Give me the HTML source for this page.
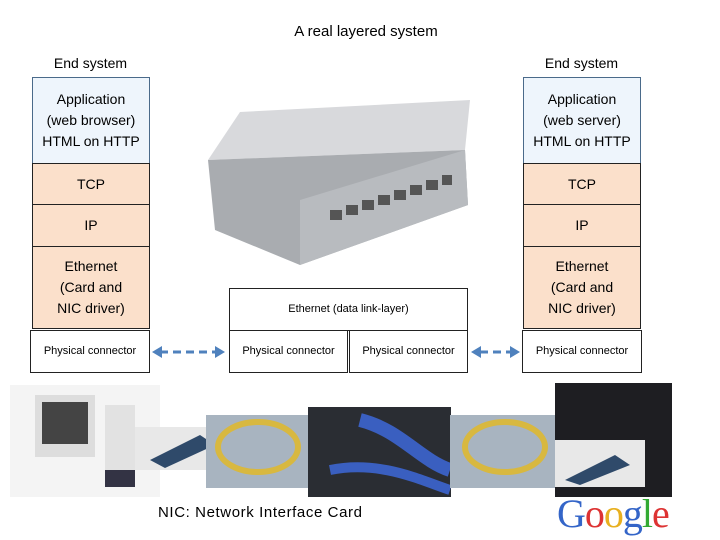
<!DOCTYPE html>
<html><head><style>
body{margin:0;width:720px;height:540px;background:#fff;position:relative;overflow:hidden;font-family:"Liberation Sans",sans-serif;color:#000}
.a{position:absolute;box-sizing:border-box}
.b{border:1px solid #222;display:flex;align-items:center;justify-content:center;text-align:center;line-height:21px;font-size:14px}
.s{font-size:11px}
.t{font-size:14px;text-align:center}
</style></head><body>
<div class="a t" style="left:0;width:732px;top:23px;font-size:15px">A real layered system</div>
<div class="a t" style="left:32px;width:117px;top:55px">End system</div>
<div class="a t" style="left:523px;width:117px;top:55px">End system</div>

<div class="a b" style="left:32px;top:77px;width:118px;height:87px;background:#eef5fc;border-color:#4a6a8a">Application<br>(web browser)<br>HTML on HTTP</div>
<div class="a b" style="left:32px;top:163px;width:118px;height:42px;background:#fbe0cb">TCP</div>
<div class="a b" style="left:32px;top:204px;width:118px;height:43px;background:#fbe0cb">IP</div>
<div class="a b" style="left:32px;top:246px;width:118px;height:83px;background:#fbe0cb">Ethernet<br>(Card and<br>NIC driver)</div>
<div class="a b s" style="left:30px;top:330px;width:120px;height:43px;background:#fff">Physical connector</div>

<div class="a b" style="left:523px;top:77px;width:118px;height:87px;background:#eef5fc;border-color:#4a6a8a">Application<br>(web server)<br>HTML on HTTP</div>
<div class="a b" style="left:523px;top:163px;width:118px;height:42px;background:#fbe0cb">TCP</div>
<div class="a b" style="left:523px;top:204px;width:118px;height:43px;background:#fbe0cb">IP</div>
<div class="a b" style="left:523px;top:246px;width:118px;height:83px;background:#fbe0cb">Ethernet<br>(Card and<br>NIC driver)</div>
<div class="a b s" style="left:522px;top:330px;width:120px;height:43px;background:#fff">Physical connector</div>

<div class="a b s" style="left:229px;top:288px;width:239px;height:43px;padding-top:0px">Ethernet (data link-layer)</div>
<div class="a b s" style="left:229px;top:330px;width:119px;height:43px">Physical connector</div>
<div class="a b s" style="left:349px;top:330px;width:119px;height:43px">Physical connector</div>

<svg class="a" style="left:0;top:0" width="720" height="540">
<g stroke="#4f81bd" stroke-width="3" stroke-dasharray="8,5" fill="none">
<line x1="160" y1="352" x2="216" y2="352"/><line x1="480" y1="352" x2="512" y2="352"/></g>
<g fill="#4f81bd"><polygon points="152,352 162,346 162,358"/><polygon points="225,352 215,346 215,358"/>
<polygon points="471,352 481,346 481,358"/><polygon points="520,352 510,346 510,358"/></g>
<polygon points="208,160 240,112 470,100 465,150" fill="#d8d9dc"/>
<polygon points="208,160 465,150 468,205 300,265 215,230" fill="#a9acb0"/>
<polygon points="300,200 465,150 468,205 300,265" fill="#b8bbbf"/>
<g fill="#555"><rect x="330" y="210" width="12" height="10"/><rect x="346" y="205" width="12" height="10"/><rect x="362" y="200" width="12" height="10"/><rect x="378" y="195" width="12" height="10"/><rect x="394" y="190" width="12" height="10"/><rect x="410" y="185" width="12" height="10"/><rect x="426" y="180" width="12" height="10"/><rect x="442" y="175" width="10" height="10"/></g>
<rect x="10" y="385" width="150" height="112" fill="#f4f4f4"/>
<rect x="35" y="395" width="60" height="62" fill="#ddd"/><rect x="42" y="402" width="46" height="42" fill="#444"/>
<rect x="105" y="405" width="30" height="82" fill="#e2e2e2"/><rect x="105" y="470" width="30" height="17" fill="#334"/>
<rect x="135" y="427" width="85" height="43" fill="#e8e8e8"/><polygon points="150,460 200,435 215,445 165,468" fill="#2f4a6a"/>
<rect x="206" y="415" width="104" height="73" fill="#a8b4c0"/><ellipse cx="258" cy="447" rx="40" ry="25" fill="none" stroke="#d8b840" stroke-width="6"/>
<rect x="308" y="407" width="143" height="90" fill="#2a2d33"/><path d="M360 420 C400 430 420 460 450 470" stroke="#3a5fc0" stroke-width="14" fill="none"/><path d="M330 470 C380 460 420 480 450 490" stroke="#3a5fc0" stroke-width="10" fill="none"/>
<rect x="450" y="415" width="110" height="73" fill="#a8b4c0"/><ellipse cx="505" cy="447" rx="40" ry="25" fill="none" stroke="#d8b840" stroke-width="6"/>
<rect x="555" y="383" width="117" height="114" fill="#1e1e22"/>
<rect x="555" y="440" width="90" height="47" fill="#e8e8e8"/><polygon points="565,480 615,455 630,465 580,485" fill="#2f4a6a"/>
</svg>
<div class="a" style="left:158px;top:504px;font-size:15px;letter-spacing:0.6px">NIC: Network Interface Card</div>
<div class="a" style="left:557px;top:490px;font-family:'Liberation Serif',serif;font-size:40px;letter-spacing:-1px"><span style="color:#3465c8">G</span><span style="color:#d33">o</span><span style="color:#e8b020">o</span><span style="color:#3465c8">g</span><span style="color:#3a3">l</span><span style="color:#d33">e</span></div>
</body></html>
